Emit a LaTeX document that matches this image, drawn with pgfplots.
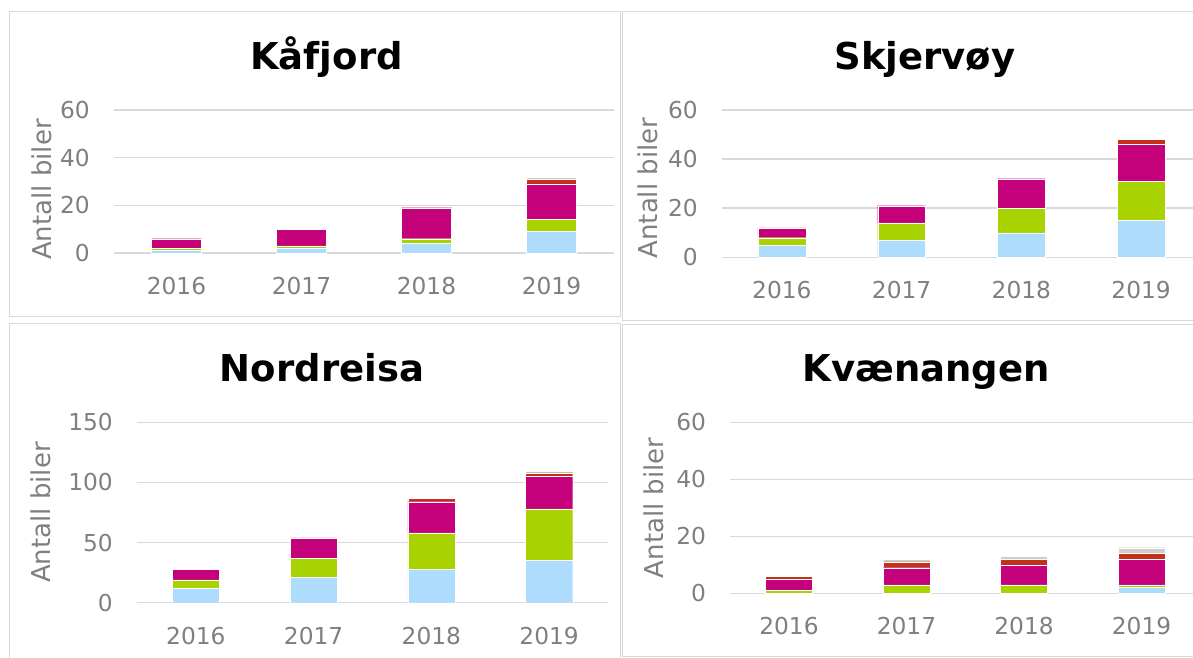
\documentclass[border=0pt]{standalone}
\usepackage{fontspec}
\setmainfont{DejaVu Sans}
\usepackage{pgfplots}
\pgfplotsset{compat=1.18}

\definecolor{lblue}{HTML}{ADDCFD}
\definecolor{lgreen}{HTML}{A8D300}
\definecolor{magenta2}{HTML}{C4007A}
\definecolor{brick}{HTML}{C3311A}
\definecolor{stone}{HTML}{D0CCC6}
\definecolor{gridgray}{HTML}{D9D9D9}
\definecolor{ticktext}{HTML}{7F7F7F}

% common look of the four panels
\pgfplotsset{
  panel/.style n args={2}{
    scale only axis, anchor=south west,
    ybar stacked, bar width=0.4,
    xmin=0.5, xmax=4.5, ymin=0,
    xtick={1,2,3,4}, xticklabels={2016,2017,2018,2019},
    axis line style={draw=none},
    major tick length=0pt,
    ymajorgrids, major grid style={gridgray, line width=1.5pt},
    tick label style={font=\fontsize{23.3}{28}\selectfont, text=ticktext},
    /pgf/number format/assume math mode=true,
    yticklabel style={anchor=east, inner sep=0pt, xshift=-24pt},
    xticklabel style={anchor=north, inner sep=0pt, yshift=-24pt},
    ylabel={Antall biler},
    ylabel style={font=\fontsize{26}{30}\selectfont, text=ticktext,
      at={(axis description cs:#1,#2)}, anchor=center},
    every axis plot/.append style={draw=white, line width=0.3pt},
  },
}
\tikzset{ttl/.style={font=\bfseries\fontsize{37}{40}\selectfont, anchor=base}}

\begin{document}
\begin{tikzpicture}[x=1pt, y=1pt]
\useasboundingbox (0,0) rectangle (1193,657);

% panel frames
\draw[gridgray, line width=1pt] (9,341) rectangle (620,645);
\draw[gridgray, line width=1pt] (622,337) rectangle (1205,645);
\draw[gridgray, line width=1pt] (9,-5) rectangle (620,334);
\draw[gridgray, line width=1pt] (622,1) rectangle (1205,333);

% Kafjord
\begin{axis}[panel={-0.144}{0.444}, at={(114pt,404pt)}, width=500pt, height=143pt,
  ymax=60, ytick={0,20,40,60}]
\addplot[fill=lblue] coordinates {(1,1) (2,2) (3,4) (4,9)};
\addplot[fill=lgreen] coordinates {(1,1) (2,1) (3,2) (4,5)};
\addplot[fill=magenta2] coordinates {(1,4) (2,7) (3,13) (4,15)};
\addplot[fill=brick] coordinates {(1,0) (2,0) (3,0) (4,2)};
\addplot[fill=stone] coordinates {(1,0) (2,0) (3,0) (4,1)};
\end{axis}

% Skjervoy
\begin{axis}[panel={-0.1545}{0.47}, at={(722pt,399.7pt)}, width=479pt, height=147.3pt,
  ymax=60, ytick={0,20,40,60}]
\addplot[fill=lblue] coordinates {(1,5) (2,7) (3,10) (4,15)};
\addplot[fill=lgreen] coordinates {(1,3) (2,7) (3,10) (4,16)};
\addplot[fill=magenta2] coordinates {(1,4) (2,7) (3,12) (4,15)};
\addplot[fill=brick] coordinates {(1,0) (2,0) (3,0) (4,2)};
\end{axis}

% Nordreisa
\begin{axis}[panel={-0.204}{0.5}, at={(137pt,54.3pt)}, width=471pt, height=180.4pt,
  ymax=150, ytick={0,50,100,150}]
\addplot[fill=lblue] coordinates {(1,12) (2,21) (3,28) (4,35)};
\addplot[fill=lgreen] coordinates {(1,7) (2,16) (3,30) (4,43)};
\addplot[fill=magenta2] coordinates {(1,9) (2,17) (3,26) (4,27)};
\addplot[fill=brick] coordinates {(1,0) (2,0) (3,3) (4,3)};
\addplot[fill=stone] coordinates {(1,0) (2,0) (3,0) (4,1)};
\end{axis}

% Kvaenangen
\begin{axis}[panel={-0.162}{0.5}, at={(730.25pt,63.7pt)}, width=470pt, height=171pt,
  ymax=60, ytick={0,20,40,60}]
\addplot[fill=lblue] coordinates {(1,0) (2,0) (3,0) (4,2)};
\addplot[fill=lgreen] coordinates {(1,1) (2,3) (3,3) (4,1)};
\addplot[fill=magenta2] coordinates {(1,4) (2,6) (3,7) (4,9)};
\addplot[fill=brick] coordinates {(1,1) (2,2) (3,2) (4,2)};
\addplot[fill=stone] coordinates {(1,0) (2,1) (3,1) (4,2)};
\end{axis}

% titles
\node[ttl] at (326.5,587) {Kåfjord};
\node[ttl] at (925,587) {Skjervøy};
\node[ttl] at (322,275.3) {Nordreisa};
\node[ttl] at (926,275.3) {Kvænangen};
\end{tikzpicture}
\end{document}
